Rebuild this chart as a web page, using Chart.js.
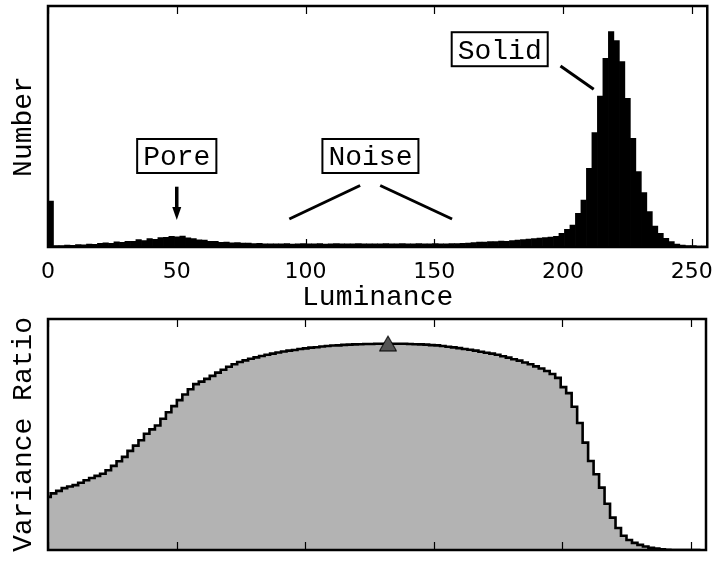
<!DOCTYPE html>
<html>
<head>
<meta charset="utf-8">
<script src="https://cdn.jsdelivr.net/npm/chart.js@4.4.1/dist/chart.umd.min.js"></script>
<style>
  html, body { margin: 0; padding: 0; background: #fff; }
  #wrap { position: relative; width: 717px; height: 561px; overflow: hidden; background: #fff; }
  #wrap canvas { position: absolute; left: 0; }
  #histo { top: 0; }
  #ratio { top: 300px; }
</style>
</head>
<body>
<div id="wrap">
  <canvas id="histo" width="717" height="318"></canvas>
  <canvas id="ratio" width="717" height="261"></canvas>
</div>
<script>
// Luminance histogram: 120 bins spanning 0..256
const BIN_COUNT = 120;
const LUM_MAX = 256;
const luminanceTicks = [0, 50, 100, 150, 200, 250];

// pixel count per luminance bin
const pixelCounts = [
  1909, 62, 55, 83, 70, 104, 92, 125, 110, 150,
  170, 152, 215, 196, 240, 232, 305, 268, 345, 318,
  390, 402, 440, 418, 452, 380, 350, 300, 285, 240,
  236, 198, 205, 170, 182, 158, 162, 140, 150, 132,
  128, 136, 131, 140, 125, 134, 138, 129, 132, 137,
  126, 133, 139, 130, 135, 128, 141, 132, 127, 136,
  131, 138, 129, 134, 140, 127, 133, 137, 130, 135,
  142, 131, 136, 139, 145, 148, 166, 187, 208, 200,
  228, 220, 249, 240, 270, 290, 311, 332, 353, 374,
  394, 415, 440, 569, 735, 913, 1399, 1951, 3266, 4743,
  6267, 7831, 8935, 8561, 7690, 6171, 4511, 3125, 2253, 1465,
  872, 569, 361, 220, 125, 83, 62, 62, 42, 42
];

// between-class variance ratio for each threshold bin
const varianceRatio = [
  0.230, 0.245, 0.256, 0.268, 0.275, 0.281, 0.291, 0.302, 0.312, 0.321,
  0.330, 0.345, 0.364, 0.384, 0.403, 0.429, 0.452, 0.475, 0.503, 0.522,
  0.539, 0.568, 0.596, 0.623, 0.649, 0.673, 0.696, 0.718, 0.729, 0.741,
  0.754, 0.768, 0.780, 0.793, 0.804, 0.814, 0.821, 0.828, 0.834, 0.840,
  0.845, 0.850, 0.855, 0.859, 0.863, 0.866, 0.870, 0.873, 0.876, 0.878,
  0.881, 0.883, 0.885, 0.886, 0.888, 0.889, 0.890, 0.891, 0.892, 0.892,
  0.893, 0.893, 0.894, 0.893, 0.893, 0.893, 0.892, 0.891, 0.890, 0.889,
  0.887, 0.886, 0.883, 0.880, 0.877, 0.874, 0.870, 0.867, 0.863, 0.858,
  0.854, 0.850, 0.845, 0.839, 0.833, 0.826, 0.820, 0.812, 0.804, 0.795,
  0.786, 0.775, 0.762, 0.745, 0.705, 0.679, 0.620, 0.550, 0.465, 0.385,
  0.328, 0.270, 0.200, 0.140, 0.095, 0.062, 0.043, 0.031, 0.022, 0.015,
  0.010, 0.006, 0.003, 0.001, 0, 0, 0, 0, 0, 0
];

const binWidth = LUM_MAX / BIN_COUNT;
const binCenters = pixelCounts.map((_, i) => (i + 0.5) * binWidth);
const thresholds = varianceRatio.map((_, i) => i * binWidth);
const peakIndex = varianceRatio.indexOf(Math.max(...varianceRatio));

const MONO = '"Liberation Mono", "DejaVu Sans Mono", monospace';
const SANS = '"DejaVu Sans", sans-serif';

// Labelled regions of the histogram (data coordinates)
const histogramNotes = [
  { text: 'Pore',  at: [50, 3776] },
  { text: 'Noise', at: [125.2, 3776] },
  { text: 'Solid', at: [175.4, 8207] }
];
const pointerLines = [
  { from: [50, 2502],    to: [50, 1120], head: true },
  { from: [121.2, 2552], to: [93.7, 1162] },
  { from: [129, 2552],   to: [156.9, 1162] },
  { from: [199, 7510],   to: [211.9, 6543] }
];

// Axes frame with inward tick marks on top and bottom edges
const framePlugin = {
  id: 'frame',
  afterDraw(chart) {
    const { ctx, chartArea: a, scales: { x } } = chart;
    ctx.save();
    ctx.strokeStyle = '#000';
    ctx.lineWidth = 1.2;
    ctx.beginPath();
    for (const t of x.ticks) {
      const px = Math.round(x.getPixelForValue(t.value)) + 0.5;
      ctx.moveTo(px, a.top); ctx.lineTo(px, a.top + 8);
      ctx.moveTo(px, a.bottom); ctx.lineTo(px, a.bottom - 8);
    }
    ctx.stroke();
    ctx.lineWidth = 2.5;
    ctx.strokeRect(a.left, a.top, a.right - a.left, a.bottom - a.top);
    ctx.restore();
  }
};

// Boxed labels and pointer lines on the histogram
const notesPlugin = {
  id: 'notes',
  afterDatasetsDraw(chart) {
    const { ctx, scales: { x, y } } = chart;
    const P = (pt) => [x.getPixelForValue(pt[0]), y.getPixelForValue(pt[1])];
    ctx.save();
    ctx.font = '28px ' + MONO;
    ctx.textAlign = 'center';
    ctx.textBaseline = 'alphabetic';
    for (const n of histogramNotes) {
      const [cx, cy] = P(n.at);
      const w = ctx.measureText(n.text).width + 12;
      const h = 34;
      ctx.fillStyle = '#fff';
      ctx.fillRect(cx - w / 2, cy - h / 2, w, h);
      ctx.strokeStyle = '#000';
      ctx.lineWidth = 2;
      ctx.strokeRect(cx - w / 2, cy - h / 2, w, h);
      ctx.fillStyle = '#000';
      ctx.fillText(n.text, cx, cy + 9.5);
    }
    ctx.strokeStyle = '#000';
    ctx.fillStyle = '#000';
    ctx.lineCap = 'butt';
    for (const l of pointerLines) {
      const [x0, y0] = P(l.from);
      const [x1, y1] = P(l.to);
      if (l.head) {
        const headLen = 13;
        ctx.lineWidth = 3.5;
        ctx.beginPath();
        ctx.moveTo(x0, y0);
        ctx.lineTo(x1, y1 - headLen + 1);
        ctx.stroke();
        ctx.beginPath();
        ctx.moveTo(x1 - 4.5, y1 - headLen);
        ctx.lineTo(x1 + 4.5, y1 - headLen);
        ctx.lineTo(x1, y1);
        ctx.closePath();
        ctx.fill();
      } else {
        ctx.lineWidth = 3;
        ctx.beginPath();
        ctx.moveTo(x0, y0);
        ctx.lineTo(x1, y1);
        ctx.stroke();
      }
    }
    ctx.restore();
  }
};

const fixedWidth = (w) => (scale) => { scale.width = w; };
const fixedHeight = (h) => (scale) => { scale.height = h; };
const useLuminanceTicks = (scale) => { scale.ticks = luminanceTicks.map(v => ({ value: v })); };

new Chart(document.getElementById('histo'), {
  type: 'bar',
  data: {
    datasets: [{
      data: binCenters.map((c, i) => ({ x: c, y: pixelCounts[i] })),
      backgroundColor: '#000',
      borderWidth: 0,
      barPercentage: 1,
      categoryPercentage: 1
    }]
  },
  options: {
    responsive: false,
    animation: false,
    events: [],
    layout: { padding: { top: 6, right: 8, left: 0, bottom: 0 } },
    plugins: { legend: { display: false }, tooltip: { enabled: false } },
    scales: {
      x: {
        type: 'linear', min: 0, max: LUM_MAX, offset: false,
        grid: { display: false, offset: false }, border: { display: false },
        afterBuildTicks: useLuminanceTicks,
        ticks: { padding: 4, color: '#000', font: { family: SANS, size: 22 }, maxRotation: 0, autoSkip: false },
        title: { display: true, text: 'Luminance', color: '#000',
                 font: { family: MONO, size: 28, lineHeight: 1.2 }, padding: { top: 0, bottom: 4 } },
        afterFit: fixedHeight(71)
      },
      y: {
        min: 0, max: 10000,
        grid: { display: false }, border: { display: false },
        ticks: { display: false },
        title: { display: true, text: 'Number', color: '#000',
                 font: { family: MONO, size: 28, lineHeight: 1.2 }, padding: { top: 7, bottom: 0 } },
        afterFit: fixedWidth(48)
      }
    }
  },
  plugins: [framePlugin, notesPlugin]
});

// Triangle marker for the best threshold
const marker = document.createElement('canvas');
marker.width = 20; marker.height = 18;
(() => {
  const m = marker.getContext('2d');
  m.beginPath();
  m.moveTo(10, 1.5); m.lineTo(18.5, 16.5); m.lineTo(1.5, 16.5); m.closePath();
  m.fillStyle = '#555555'; m.fill();
  m.lineWidth = 1; m.strokeStyle = '#000'; m.stroke();
})();

new Chart(document.getElementById('ratio'), {
  type: 'line',
  data: {
    datasets: [
      {
        data: [{ x: thresholds[peakIndex], y: varianceRatio[peakIndex] }],
        showLine: false,
        pointStyle: marker,
        pointRadius: 10,
        order: 0
      },
      {
        data: thresholds.map((t, i) => ({ x: t, y: varianceRatio[i] })),
        stepped: 'middle',
        borderColor: '#000',
        borderWidth: 2.6,
        borderJoinStyle: 'miter',
        backgroundColor: '#b3b3b3',
        fill: 'origin',
        pointRadius: 0,
        order: 1
      }
    ]
  },
  options: {
    responsive: false,
    animation: false,
    events: [],
    layout: { padding: { top: 19, right: 8, left: 0, bottom: 3 } },
    plugins: { legend: { display: false }, tooltip: { enabled: false } },
    scales: {
      x: {
        type: 'linear', min: 0, max: LUM_MAX,
        grid: { display: false }, border: { display: false },
        afterBuildTicks: useLuminanceTicks,
        ticks: { display: false },
        afterFit: fixedHeight(0)
      },
      y: {
        min: 0, max: 1,
        grid: { display: false }, border: { display: false },
        ticks: { display: false },
        title: { display: true, text: 'Variance Ratio', color: '#000',
                 font: { family: MONO, size: 28, lineHeight: 1.2 }, padding: { top: 7, bottom: 0 } },
        afterFit: fixedWidth(48)
      }
    }
  },
  plugins: [framePlugin]
});
</script>
</body>
</html>
